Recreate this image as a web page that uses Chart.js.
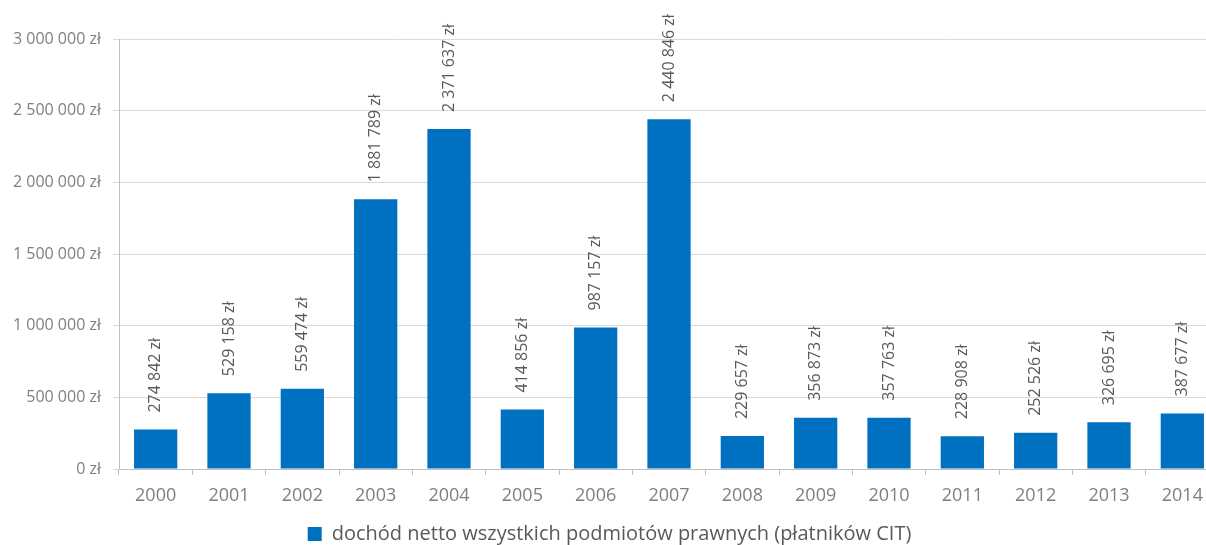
<!DOCTYPE html>
<html>
<head>
<meta charset="utf-8">
<script src="https://cdn.jsdelivr.net/npm/chart.js@4/dist/chart.umd.min.js"></script>
<style>
  html, body { margin: 0; padding: 0; background: #fff; overflow: hidden; }
  #chart { display: block; }
</style>
</head>
<body>
<canvas id="chart" width="1220" height="545"></canvas>
<script>
const years = ["2000", "2001", "2002", "2003", "2004", "2005", "2006", "2007",
  "2008", "2009", "2010", "2011", "2012", "2013", "2014"];
const income = [274842, 529158, 559474, 1881789, 2371637, 414856, 987157, 2440846,
  229657, 356873, 357763, 228908, 252526, 326695, 387677];
const seriesName = "dochód netto wszystkich podmiotów prawnych (płatników CIT)";

const FONT = "'Open Sans', sans-serif";

function zl(v) {
  return String(v).replace(/\B(?=(\d{3})+(?!\d))/g, " ") + " zł";
}

// rotated value labels above each bar
const barLabels = {
  id: "barLabels",
  afterDatasetsDraw(chart) {
    const ctx = chart.ctx;
    const meta = chart.getDatasetMeta(0);
    ctx.save();
    ctx.fillStyle = "#595959";
    ctx.font = "16px " + FONT;
    ctx.textAlign = "left";
    ctx.textBaseline = "middle";
    meta.data.forEach((bar, i) => {
      ctx.save();
      ctx.translate(bar.x, bar.y - 17);
      ctx.rotate(-Math.PI / 2);
      ctx.fillText(zl(income[i]), 0, 0);
      ctx.restore();
    });
    ctx.restore();
  }
};

const ctx = document.getElementById("chart").getContext("2d");
new Chart(ctx, {
  type: "bar",
  data: {
    labels: years,
    datasets: [{
      label: seriesName,
      data: income,
      backgroundColor: "#0070C0",
      borderWidth: 0,
      categoryPercentage: 1,
      barPercentage: 0.59
    }]
  },
  options: {
    responsive: false,
    animation: false,
    layout: { padding: { top: 39, left: 0, right: 1, bottom: -9 } },
    plugins: {
      tooltip: { enabled: false },
      legend: {
        position: "bottom",
        labels: {
          color: "#595959",
          font: { family: FONT, size: 20 },
          boxWidth: 14,
          boxHeight: 14,
          padding: 2
        }
      }
    },
    scales: {
      x: {
        offset: true,
        afterFit(scale) { scale.height = 53; },
        grid: {
          offset: true,
          drawOnChartArea: false,
          color: "#bfbfbf",
          tickLength: 6
        },
        border: { color: "#bfbfbf" },
        ticks: {
          color: "#7f7f7f",
          font: { family: FONT, size: 18 },
          padding: 10
        }
      },
      y: {
        min: 0,
        max: 3000000,
        afterFit(scale) { scale.width = 119; },
        grid: {
          color: "#d9d9d9",
          tickLength: 6
        },
        border: { color: "#bfbfbf" },
        ticks: {
          stepSize: 500000,
          color: "#7f7f7f",
          font: { family: FONT, size: 16 },
          padding: 12,
          callback: (v) => zl(v)
        }
      }
    }
  },
  plugins: [barLabels]
});
</script>
</body>
</html>
